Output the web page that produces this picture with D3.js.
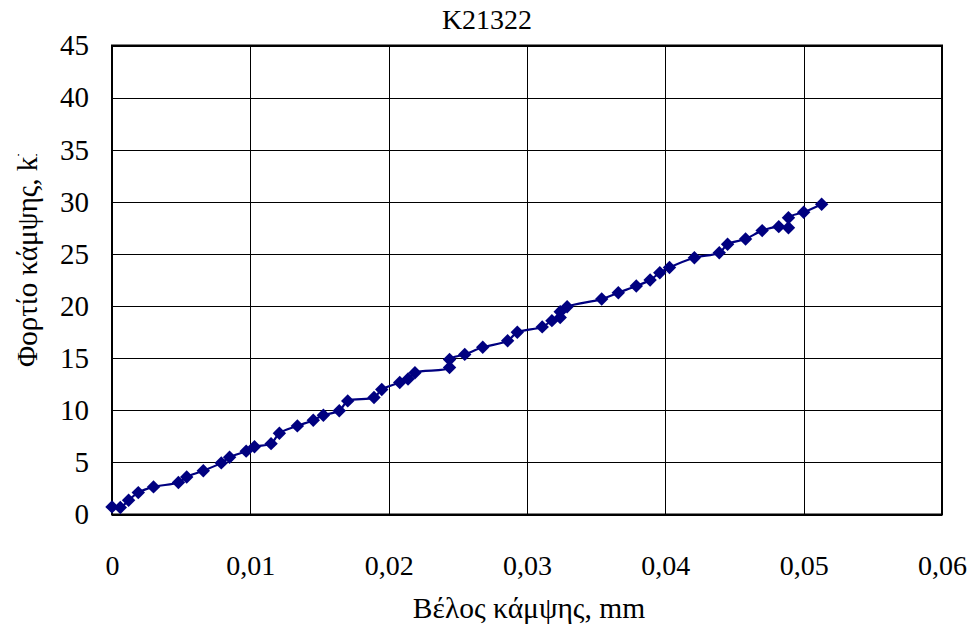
<!DOCTYPE html>
<html>
<head>
<meta charset="utf-8">
<script src="https://cdn.jsdelivr.net/npm/d3@7"></script>
<style>
    body { margin: 0; background: #fff; }
    svg { display: block; font-family: "Liberation Serif", "Times New Roman", serif; }
</style>
</head>
<body>
<svg id="chart" width="970" height="631"></svg>
<script>
// deflection (mm) and load (kN)
const deflection = [0, 0.0006, 0.0012, 0.0019, 0.003, 0.0048, 0.0054, 0.0066, 0.0079, 0.0085,
    0.0097, 0.0103, 0.0115, 0.0121, 0.0134, 0.01455, 0.01528, 0.01643, 0.01704, 0.01894,
    0.0195, 0.0208, 0.0214, 0.0219, 0.0244, 0.0244, 0.0255, 0.0268, 0.0286, 0.0293,
    0.0311, 0.0318, 0.0324, 0.0324, 0.0329, 0.0354, 0.0366, 0.0379, 0.0389, 0.0396,
    0.0403, 0.0421, 0.0439, 0.0445, 0.0458, 0.0470, 0.0482, 0.0489, 0.0489, 0.0500, 0.0513]
const load = [0.73, 0.67, 1.37, 2.1, 2.65, 3.07, 3.6, 4.2, 4.95, 5.5,
    6.08, 6.5, 6.8, 7.8, 8.5, 9.05, 9.53, 9.95, 10.9, 11.23,
    12.0, 12.67, 13.0, 13.6, 14.1, 14.88, 15.36, 16.04, 16.67, 17.48,
    18.0, 18.6, 18.9, 19.46, 19.94, 20.67, 21.28, 21.92, 22.5, 23.2,
    23.7, 24.64, 25.12, 25.93, 26.44, 27.24, 27.62, 27.52, 28.48, 29.0, 29.77]

const xTicks = [0, 0.01, 0.02, 0.03, 0.04, 0.05, 0.06]
const yTicks = [0, 5, 10, 15, 20, 25, 30, 35, 40, 45]

const title = "K21322"
const xTitle = "Βέλος κάμψης, mm"
const yTitle = "Φορτίο κάμψης, kN"

const plot = {left: 112, right: 942, top: 45.5, bottom: 514.5}
const color = "#000080"
const font = "'Liberation Serif', 'Times New Roman', serif"

const svg = d3.select("#chart")

const x = d3.scaleLinear([0, 0.06], [plot.left, plot.right])
const y = d3.scaleLinear([0, 45], [plot.bottom, plot.top])
const fmt = d => d === 0 ? "0" : d3.format(".2f")(d).replace(".", ",")

// grid
svg.append("g")
    .attr("transform", `translate(0, ${plot.bottom})`)
    .call(d3.axisBottom(x).tickValues(xTicks).tickSize(-(plot.bottom - plot.top)).tickFormat(""))
    .call(g => g.select(".domain").remove())
    .call(g => g.selectAll("line").attr("stroke", "#000").attr("shape-rendering", "crispEdges"))

svg.append("g")
    .attr("transform", `translate(${plot.left}, 0)`)
    .call(d3.axisLeft(y).tickValues(yTicks).tickSize(-(plot.right - plot.left)).tickFormat(""))
    .call(g => g.select(".domain").remove())
    .call(g => g.selectAll("line").attr("stroke", "#000").attr("shape-rendering", "crispEdges"))

svg.append("rect")
    .attr("x", plot.left).attr("y", plot.top)
    .attr("width", plot.right - plot.left).attr("height", plot.bottom - plot.top)
    .attr("fill", "none").attr("stroke", "#000").attr("stroke-width", 2)

// tick labels
svg.append("g")
    .attr("transform", `translate(0, ${plot.bottom})`)
    .call(d3.axisBottom(x).tickValues(xTicks).tickSize(0).tickPadding(41).tickFormat(fmt))
    .call(g => g.select(".domain").remove())
    .call(g => g.selectAll("text").attr("font-size", 28).attr("fill", "#000").attr("font-family", font))

svg.append("g")
    .attr("transform", `translate(${plot.left}, 0)`)
    .call(d3.axisLeft(y).tickValues(yTicks).tickSize(0).tickPadding(23))
    .call(g => g.select(".domain").remove())
    .call(g => g.selectAll("text").attr("font-size", 29).attr("fill", "#000").attr("font-family", font))

// series
const points = d3.zip(deflection, load)

svg.append("path")
    .datum(points)
    .attr("fill", "none")
    .attr("stroke", color)
    .attr("stroke-width", 2.2)
    .attr("d", d3.line(d => x(d[0]), d => y(d[1])).curve(d3.curveCatmullRom.alpha(0.5)))

svg.append("g")
    .attr("fill", color)
    .selectAll("path")
    .data(points)
    .join("path")
    .attr("transform", d => `translate(${x(d[0])}, ${y(d[1])}) rotate(45)`)
    .attr("d", d3.symbol(d3.symbolSquare, 90))

// titles
svg.append("text")
    .attr("x", 487).attr("y", 29)
    .attr("text-anchor", "middle")
    .attr("font-size", 28)
    .text(title)

svg.append("text")
    .attr("x", 529).attr("y", 618)
    .attr("text-anchor", "middle")
    .attr("font-size", 29.5)
    .text(xTitle)

// the axis title is cut off at the top in the source chart
svg.append("clipPath").attr("id", "yclip")
    .append("rect").attr("x", 0).attr("y", 154).attr("width", 60).attr("height", 300)

svg.append("g")
    .attr("clip-path", "url(#yclip)")
    .append("text")
    .attr("transform", "translate(37, 367) rotate(-90)")
    .attr("font-size", 29)
    .text(yTitle)
</script>
</body>
</html>
